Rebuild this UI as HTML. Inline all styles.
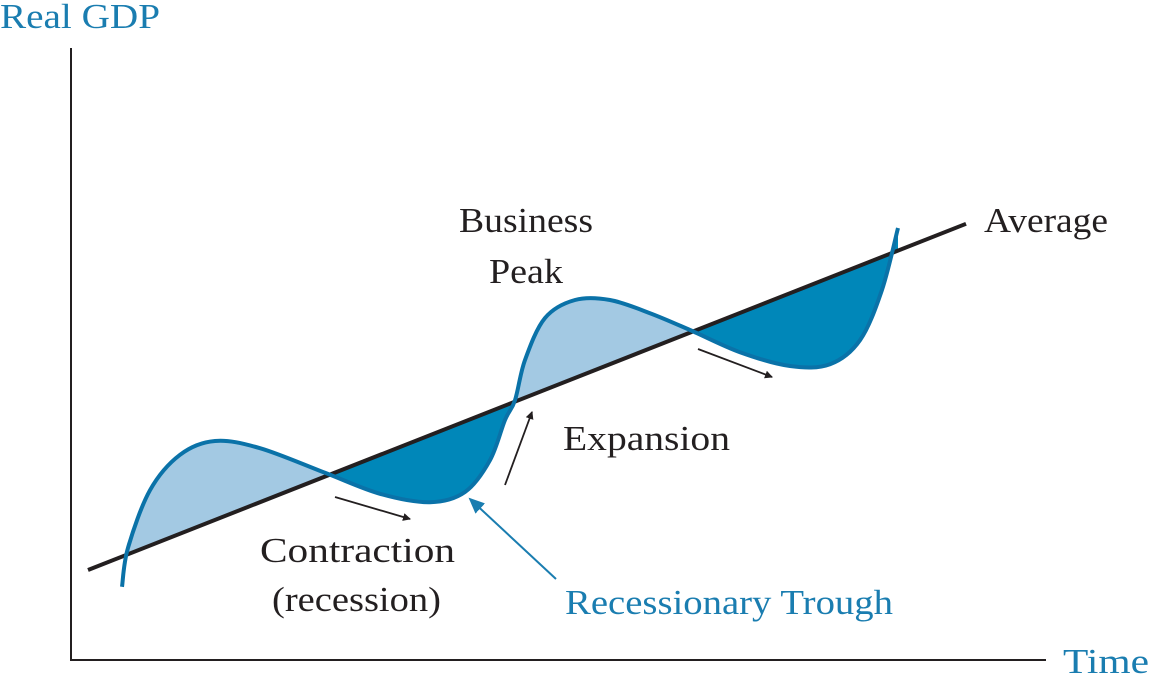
<!DOCTYPE html>
<html><head><meta charset="utf-8"><style>
html,body{margin:0;padding:0;background:#fff;}
svg{display:block;}
text{font-family:"Liberation Serif",serif;font-size:35px;fill:#231f20;}
.blue{fill:#1a7db0;}
</style></head><body>
<svg id="chart" width="1149" height="674" viewBox="0 0 1149 674" xmlns="http://www.w3.org/2000/svg">
<defs>
<marker id="ah" markerWidth="8" markerHeight="8" refX="7" refY="4" orient="auto" markerUnits="userSpaceOnUse"><path d="M0,0 L8,4 L0,8 Z" fill="#231f20"/></marker>
<marker id="ahb" markerWidth="16" markerHeight="14" refX="14" refY="7" orient="auto" markerUnits="userSpaceOnUse"><path d="M0,0 L16,7 L0,14 Z" fill="#1a7db0"/></marker>
</defs>
<g id="fills"></g>
<line x1="71" y1="48" x2="71" y2="661" stroke="#231f20" stroke-width="2"/>
<line x1="70" y1="660" x2="1046" y2="660" stroke="#231f20" stroke-width="2"/>
<g id="lines"></g>
<line x1="335" y1="497" x2="410" y2="519" stroke="#231f20" stroke-width="1.8" marker-end="url(#ah)"/>
<line x1="505" y1="485" x2="532" y2="412" stroke="#231f20" stroke-width="1.8" marker-end="url(#ah)"/>
<line x1="698" y1="349" x2="772" y2="377" stroke="#231f20" stroke-width="1.8" marker-end="url(#ah)"/>
<line x1="556" y1="579" x2="470" y2="499" stroke="#1a7db0" stroke-width="2" marker-end="url(#ahb)"/>
<text class="blue" x="0" y="28" textLength="160" lengthAdjust="spacingAndGlyphs">Real GDP</text>
<text class="blue" x="1063" y="673" textLength="86" lengthAdjust="spacingAndGlyphs">Time</text>
<text x="984" y="232" textLength="124" lengthAdjust="spacingAndGlyphs">Average</text>
<text x="459" y="232" textLength="134" lengthAdjust="spacingAndGlyphs">Business</text>
<text x="489" y="283" textLength="74" lengthAdjust="spacingAndGlyphs">Peak</text>
<text x="563" y="450" textLength="167" lengthAdjust="spacingAndGlyphs">Expansion</text>
<text x="260" y="562" textLength="195" lengthAdjust="spacingAndGlyphs">Contraction</text>
<text x="272" y="611" textLength="169" lengthAdjust="spacingAndGlyphs">(recession)</text>
<text class="blue" x="565" y="614" textLength="328" lengthAdjust="spacingAndGlyphs">Recessionary Trough</text>
</svg>
<script>
const time = [5.1,5.7,7.9,10.9,14.4,18.9,25.4,30.9,35.9,39.4,41.9,43.4,44.4,45.4,47.4,50.4,53.9,57.9,61.9,66.9,71.9,75.9,78.9,81.1,82.7];
const gdp = [12.2,18.7,28.3,34.2,36.5,35.3,31.2,27.7,26.3,28,33.3,40,43.3,50,57,60,60,57.8,55,51.3,49,49.3,53.3,61.7,72];
const avgTime = [1.7,89.5];
const avgGdp = [15,72.7];
const phaseBreaks = [1,6,12,18,24];
const phaseKind = ["above","below","above","below"];

const sx = t => 71 + t*10;
const sy = g => 660 - g*6;
const ns = "http://www.w3.org/2000/svg";
const avgAt = t => avgGdp[0] + (avgGdp[1]-avgGdp[0])*(t-avgTime[0])/(avgTime[1]-avgTime[0]);

const P = time.map((t,i)=>[sx(t),sy(gdp[i])]);
function smoothPath(pts){
  let d = "M"+pts[0][0]+","+pts[0][1];
  for(let i=0;i<pts.length-1;i++){
    const p0=pts[Math.max(0,i-1)],p1=pts[i],p2=pts[i+1],p3=pts[Math.min(pts.length-1,i+2)];
    const c1=[p1[0]+(p2[0]-p0[0])/6,p1[1]+(p2[1]-p0[1])/6];
    const c2=[p2[0]-(p3[0]-p1[0])/6,p2[1]-(p3[1]-p1[1])/6];
    d+=" C"+c1[0]+","+c1[1]+" "+c2[0]+","+c2[1]+" "+p2[0]+","+p2[1];
  }
  return d;
}
const fills = document.getElementById("fills");
for(let k=0;k<phaseKind.length;k++){
  const a=phaseBreaks[k], b=phaseBreaks[k+1];
  const seg=P.slice(a,b+1);
  let d=smoothPath(seg);
  d+=" L"+sx(time[b])+","+sy(avgAt(time[b]))+" L"+sx(time[a])+","+sy(avgAt(time[a]))+" Z";
  const el=document.createElementNS(ns,"path");
  
  
  el.setAttribute("d",d);
  el.setAttribute("fill",phaseKind[k]==="above"?"#a3c9e3":"#0087b9");
  fills.appendChild(el);
}
const lines = document.getElementById("lines");
const avg=document.createElementNS(ns,"line");


avg.setAttribute("x1",sx(avgTime[0]));avg.setAttribute("y1",sy(avgGdp[0]));
avg.setAttribute("x2",sx(avgTime[1]));avg.setAttribute("y2",sy(avgGdp[1]));
avg.setAttribute("stroke","#231f20");avg.setAttribute("stroke-width","4");
lines.appendChild(avg);
const cur=document.createElementNS(ns,"path");


cur.setAttribute("d",smoothPath(P));
cur.setAttribute("fill","none");cur.setAttribute("stroke","#0a72a8");cur.setAttribute("stroke-width","4");
lines.appendChild(cur);
</script>
</body></html>
